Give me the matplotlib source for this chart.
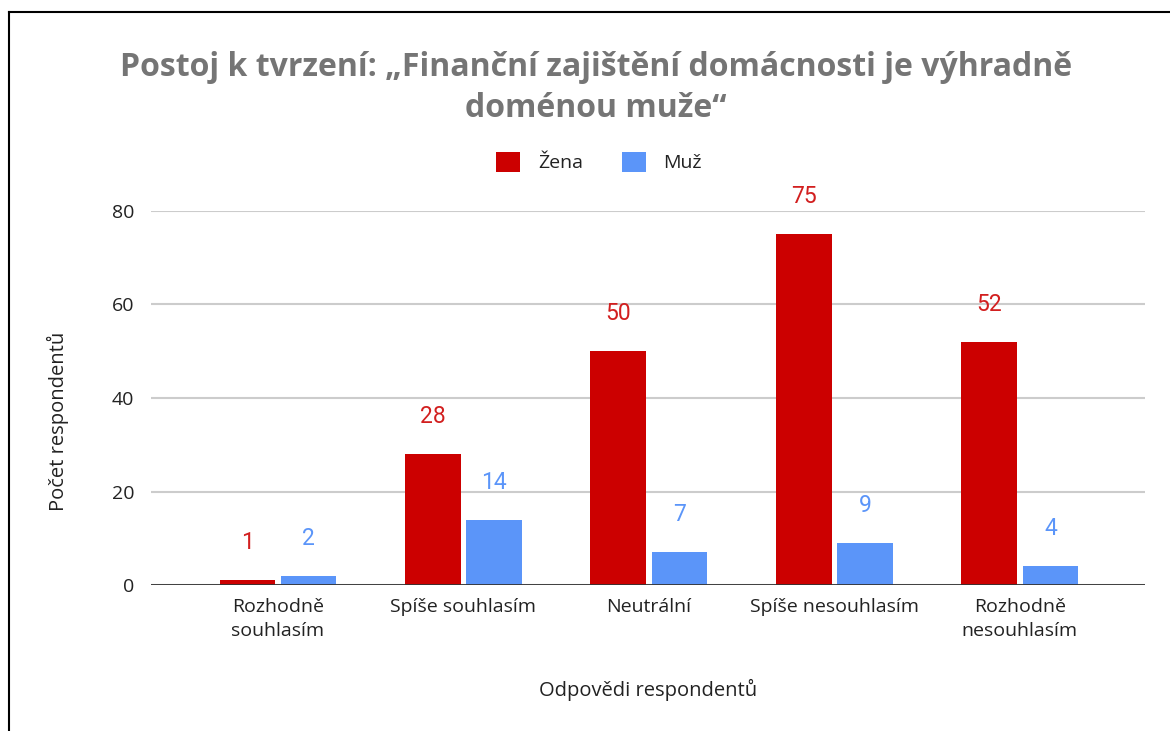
import matplotlib.pyplot as plt
import numpy as np

categories = ['Rozhodně\nsouhlasím', 'Spíše souhlasím', 'Neutrální',
              'Spíše nesouhlasím', 'Rozhodně\nnesouhlasím']
zena = [1, 28, 50, 75, 52]
muz = [2, 14, 7, 9, 4]

red = '#cc0000'
blue = '#5b95f9'

plt.rcParams['font.family'] = ['Open Sans', 'DejaVu Sans']

fig = plt.figure(figsize=(11.7, 7.31), dpi=100)
ax = fig.add_axes([0.129, 0.1997, 0.8496, 0.5117])

x = np.arange(len(categories))
w = 0.30
off = 0.165
b1 = ax.bar(x - off, zena, w, color=red, label='Žena', zorder=3)
b2 = ax.bar(x + off, muz, w, color=blue, label='Muž', zorder=3)

for xi, v in zip(x, zena):
    ax.annotate(str(v), (xi - off, v), xytext=(0, 27), textcoords='offset points',
                ha='center', va='center', color='#d21f1f', fontsize=16.5,
                family=['Roboto', 'DejaVu Sans'])
for xi, v in zip(x, muz):
    ax.annotate(str(v), (xi + off, v), xytext=(0, 27), textcoords='offset points',
                ha='center', va='center', color=blue, fontsize=16.5,
                family=['Roboto', 'DejaVu Sans'])

ax.set_ylim(0, 80)
ax.set_xlim(-0.685, 4.675)
ax.set_yticks([0, 20, 40, 60, 80])
ax.yaxis.grid(True, color='#cccccc', linewidth=1.5, zorder=0)
ax.axhline(0, color='#333333', linewidth=2, zorder=4)
for s in ax.spines.values():
    s.set_visible(False)
ax.tick_params(axis='both', length=0, labelsize=14, colors='#222222')
ax.tick_params(axis='y', pad=12)
ax.tick_params(axis='x', pad=9)
ax.set_xticks(x)
ax.set_xticklabels(categories, linespacing=1.45)

fig.text(58 / 1170, 1 - 421 / 731, 'Počet respondentů', rotation=90,
         ha='center', va='center', fontsize=14.5, color='#222222')
fig.text(648 / 1170, 1 - 690 / 731, 'Odpovědi respondentů',
         ha='center', va='center', fontsize=14.5, color='#222222')

fig.text(596 / 1170, 1 - 88 / 731,
         'Postoj k tvrzení: „Finanční zajištění domácnosti je výhradně\ndoménou muže“',
         ha='center', va='center', fontsize=23, fontweight='bold', color='#757575',
         linespacing=1.33)

fig.legend(handles=[b1, b2], loc='center', bbox_to_anchor=(599 / 1170, 1 - 162 / 731),
           ncol=2, frameon=False, fontsize=14, handlelength=1.25, handleheight=1.25,
           handletextpad=0.9, columnspacing=2.0, labelcolor='#222222')

# border on top and left
fig.add_artist(plt.Line2D([9 / 1170, 1], [1 - 12 / 731, 1 - 12 / 731],
                          color='black', linewidth=1.5, transform=fig.transFigure))
fig.add_artist(plt.Line2D([9 / 1170, 9 / 1170], [0, 1 - 12 / 731],
                          color='black', linewidth=1.5, transform=fig.transFigure))

fig.savefig('out.png', dpi=100)
